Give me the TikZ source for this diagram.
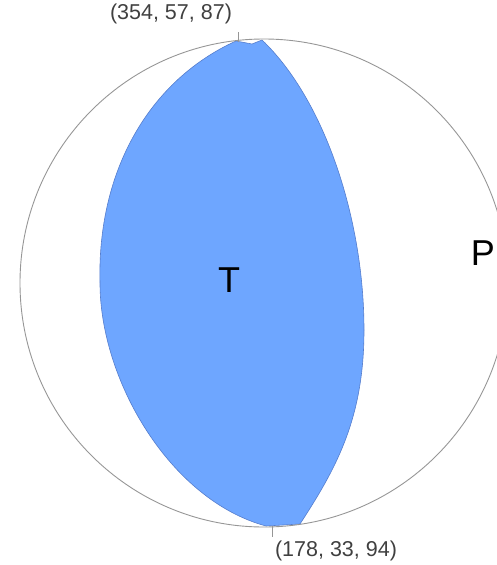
\documentclass[tikz,border=0pt]{standalone}
\usepackage{fontspec}
\setmainfont{Liberation Sans}
\definecolor{bfill}{RGB}{110,166,255}
\definecolor{bedge}{RGB}{85,125,205}
\definecolor{cgray}{RGB}{150,150,150}
\begin{document}
\begin{tikzpicture}[x=1pt,y=-1pt,
  lbl/.style={font=\fontsize{21.5}{24}\selectfont, text=black!75, inner sep=0pt},
  big/.style={font=\fontsize{36}{40}\selectfont, inner sep=0pt},
  tick/.style={draw=cgray, line width=0.7pt}]
\useasboundingbox (0,0) rectangle (497,565);
\clip (0,0) rectangle (497,565);
\coordinate (c) at (264,283);
\fill[bfill, draw=bedge, line width=0.6pt]
  (236,41) .. controls (150,80) and (97,170) .. (100,283)
  .. controls (100,380) and (170,500) .. (266,526)
  -- (300,524)
  .. controls (335,470) and (364,420) .. (364,330)
  .. controls (364,220) and (325,100) .. (262,40)
  -- (252,44) -- cycle;
\draw[cgray, line width=0.9pt] (c) circle[radius=244];
\coordinate (t1) at (238,32); \coordinate (t2) at (238,42);
\coordinate (b1) at (272,526); \coordinate (b2) at (272,537);
\draw[tick] (t1) -- (t2);
\draw[tick] (b1) -- (b2);
\node[lbl] (top) at (171,14) {(354, 57, 87)};
\node[lbl] (bot) at (336,551) {(178, 33, 94)};
\node[big] (T) at (229,280) {T};
\node[big] (P) at (483,253) {P};
\end{tikzpicture}
\end{document}
